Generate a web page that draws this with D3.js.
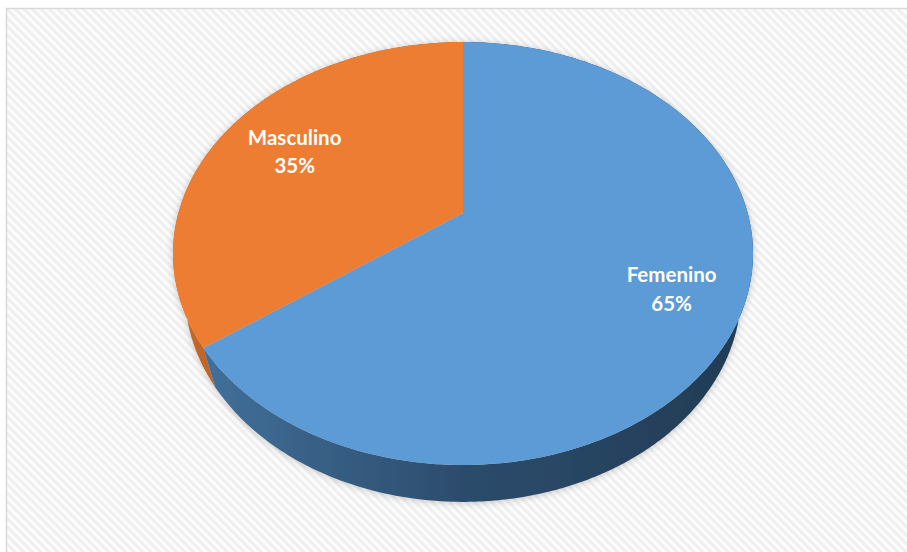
<!DOCTYPE html>
<html>
<head>
<meta charset="utf-8">
<script src="https://d3js.org/d3.v7.min.js"></script>
<style>
  html, body { margin: 0; padding: 0; background: #fff; }
  svg { display: block; }
</style>
</head>
<body>
<script>
// chart data
const categories = ["Femenino", "Masculino"];
const values = [65, 35];
const topColors = ["#5b9bd5", "#ed7d31"];
const sideColors = [["#44749f", "#2c4c6c", "#223b54"], ["#c4672b", "#a8561f", "#8a461a"]];

const width = 907, height = 552;

const svg = d3.select("body").append("svg")
    .attr("width", width)
    .attr("height", height);

const defs = svg.append("defs");

// diagonal hatch background
const pat = defs.append("pattern")
    .attr("id", "hatch")
    .attr("patternUnits", "userSpaceOnUse")
    .attr("width", 6).attr("height", 6)
    .attr("patternTransform", "rotate(45)");
pat.append("rect").attr("width", 6).attr("height", 6).attr("fill", "#fcfcfc");
pat.append("rect").attr("width", 6).attr("height", 3).attr("fill", "#efefef");

// side gradients
sideColors.forEach(function (c, i) {
    const g = defs.append("linearGradient")
        .attr("id", "side" + i)
        .attr("gradientUnits", "userSpaceOnUse")
        .attr("x1", 173).attr("y1", 0).attr("x2", 752).attr("y2", 0);
    g.append("stop").attr("offset", "0%").attr("stop-color", c[0]);
    g.append("stop").attr("offset", "50%").attr("stop-color", c[1]);
    g.append("stop").attr("offset", "100%").attr("stop-color", c[2]);
});

const shadow = defs.append("filter").attr("id", "shadow")
    .attr("x", "-10%").attr("y", "-10%").attr("width", "120%").attr("height", "130%");
shadow.append("feDropShadow")
    .attr("dx", 0).attr("dy", 1).attr("stdDeviation", 3.5)
    .attr("flood-color", "#000").attr("flood-opacity", 0.22);

// chart area
svg.append("rect")
    .attr("x", 6.5).attr("y", 8.5)
    .attr("width", width + 10).attr("height", height + 10)
    .attr("fill", "url(#hatch)")
    .attr("stroke", "#d9d9d9")
    .attr("stroke-width", 1.5);

// perspective projection of a tilted disk
const cx = 463, cy = 213;
const R = 1, D = 3.645, F = 1037.5, H = 0.21;
const phi = 45.7 * Math.PI / 180;

function proj(r, a, h) {
    const u = r * Math.sin(a), v = r * Math.cos(a);
    const depth = D + v * Math.cos(phi) - h * Math.sin(phi);
    return [cx + F * u / depth, cy - F * (h * Math.cos(phi) + v * Math.sin(phi)) / depth];
}

const pie = d3.pie().sort(null).value(function (d) { return d; });
const arcs = pie(values);
const line = d3.line();
const pct = d3.format(".0%");
const total = d3.sum(values);

function rimPoints(a0, a1, h) {
    const n = Math.max(2, Math.ceil((a1 - a0) / 0.01));
    return d3.range(n + 1).map(function (i) {
        return proj(R, a0 + (a1 - a0) * i / n, h);
    });
}

const pieG = svg.append("g").attr("filter", "url(#shadow)");

// outer walls, back to front
const order = arcs.map(function (d, i) { return i; })
    .sort(function (a, b) {
        const ma = (arcs[a].startAngle + arcs[a].endAngle) / 2;
        const mb = (arcs[b].startAngle + arcs[b].endAngle) / 2;
        return Math.cos(mb) - Math.cos(ma);
    });

order.forEach(function (i) {
    const d = arcs[i];
    const top = rimPoints(d.startAngle, d.endAngle, 0);
    const bot = rimPoints(d.startAngle, d.endAngle, -H).reverse();
    pieG.append("path")
        .attr("d", line(top.concat(bot)) + "Z")
        .attr("fill", "url(#side" + i + ")");
});

// top faces
arcs.forEach(function (d, i) {
    const pts = [proj(0, 0, 0)].concat(rimPoints(d.startAngle, d.endAngle, 0));
    pieG.append("path")
        .attr("d", line(pts) + "Z")
        .attr("fill", topColors[i]);
});

// labels
arcs.forEach(function (d, i) {
    const p = proj(0.74, (d.startAngle + d.endAngle) / 2, 0);
    const x = p[0] + 8;
    const t = svg.append("text")
        .attr("x", x).attr("y", p[1] + 2)
        .attr("text-anchor", "middle")
        .attr("fill", "#fff")
        .attr("font-family", "Lato, 'Open Sans', sans-serif")
        .attr("font-weight", "bold")
        .attr("font-size", 20.5);
    t.append("tspan").attr("x", x).attr("dy", "-0.3em").text(categories[i]);
    t.append("tspan").attr("x", x).attr("dy", "1.4em").text(pct(values[i] / total));
});
</script>
</body>
</html>
